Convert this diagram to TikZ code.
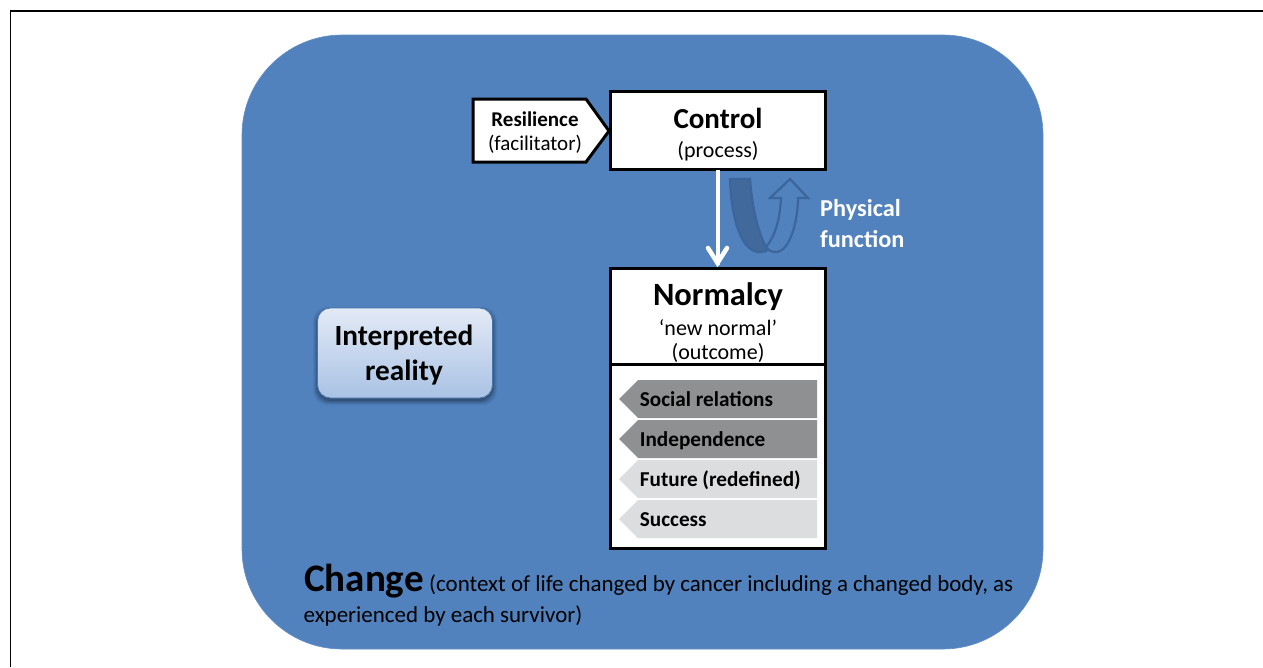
\documentclass[tikz,border=0pt]{standalone}
\usepackage{fontspec}
\setmainfont{Carlito}
\definecolor{chg}{HTML}{5182BE}
\definecolor{darkc}{HTML}{8F9092}
\definecolor{lightc}{HTML}{DCDDDF}
\definecolor{curlf}{HTML}{41699B}
\definecolor{curll}{HTML}{3B659B}
\definecolor{topblue}{HTML}{E3EAF6}
\definecolor{botblue}{HTML}{A9C2E4}
\newcommand{\fsz}[1]{\fontsize{#1}{#1}\selectfont}
\tikzset{
  x=1pt,y=-1pt,
  boxed/.style={draw=black,line width=3pt,fill=white,miter limit=10,inner sep=0pt,outer sep=0pt},
  tag/.style={inner sep=0pt,anchor=west,text=black,font=\fsz{21.2}\bfseries},
  txt/.style={inner sep=0pt,text=black,align=center},
  white label/.style={inner sep=0pt,anchor=west,text=white,font=\fsz{24.3}\bfseries},
  caption/.style={inner sep=0pt,anchor=base west,text=black,font=\fsz{22.95}},
  curl/.style={draw=curll,line width=2.2pt,line join=miter},
}
\begin{document}
\begin{tikzpicture}
\useasboundingbox (0,0) rectangle (1263,667);
\fill[white] (0,0) rectangle (1263,667);
\draw[black,line width=1.2pt] (10.5,667) -- (10.5,11) -- (1263,11);
% change panel
\path[fill=chg,draw=chg!90!white,line width=.6pt]
  (342,35) -- (943,35)
  .. controls (998,35) and (1043,80) .. (1043,135)
  -- (1043,549)
  .. controls (1043,604) and (998,649) .. (943,649)
  -- (342,649)
  .. controls (287,649) and (242,604) .. (242,549)
  -- (242,135)
  .. controls (242,80) and (287,35) .. (342,35) -- cycle;
% Resilience
\path[boxed,line join=miter] (473,99) -- (586,99) -- (609,131) -- (586,162) -- (473,162) -- cycle;
\node[txt,font=\fsz{21}\bfseries] (res) at (535,119) {Resilience};
\node[txt,font=\fsz{21}] (fac) at (535,144) {(facilitator)};
% Control
\node[boxed,minimum width=215pt,minimum height=78pt] (ctrl) at (718,130.5) {};
\node[txt,font=\fsz{29}\bfseries] at (718,118.5) {Control};
\node[txt,font=\fsz{22}] at (718,151) {(process)};
% Normalcy
\node[boxed,minimum width=215pt,minimum height=184pt] (list) at (718,456) {};
\node[boxed,minimum width=215pt,minimum height=96pt] (norm) at (718,316) {};
\node[txt,font=\fsz{32.5}\bfseries] at (718,296.5) {Normalcy};
\node[txt,font=\fsz{22}] at (718,328) {‘new normal’};
\node[txt,font=\fsz{22}] at (718,353) {(outcome)};
% curl arrow
\path[curl,fill=curlf]
  (730,179) -- (750,179)
  .. controls (752,205) and (757,230) .. (766,247)
  .. controls (769,251) and (766,252) .. (758,252)
  .. controls (740,250) and (731,215) .. (730,179) -- cycle;
\path[curl]
  (766,247) .. controls (769,251) and (772,252) .. (776,252)
  .. controls (790,252) and (798,220) .. (798,198)
  -- (808,198) -- (790,179) -- (770,198) -- (781,198)
  .. controls (780,220) and (775,236) .. (766,247);
% main arrow
\draw[white,line width=4.6pt,shorten >=3pt] (ctrl.south) -- (norm.north);
\draw[white,line width=4.5pt,line cap=round,line join=miter] (708,248) -- (717.5,263) -- (727,248);
\node[white label] (pf1) at (820,210) {Physical};
\node[white label] (pf2) at (820,239) {function};
% list items
\fill[darkc] (817,380) -- (638,380) -- (619,399) -- (638,418) -- (817,418) -- cycle;
\fill[darkc] (817,420) -- (638,420) -- (619,439) -- (638,458) -- (817,458) -- cycle;
\fill[lightc] (817,460) -- (638,460) -- (619,479) -- (638,498) -- (817,498) -- cycle;
\fill[lightc] (817,500) -- (638,500) -- (619,519) -- (638,538) -- (817,538) -- cycle;
\node[tag] at (639.7,399.5) {Social relations};
\node[tag] at (639.7,440.5) {Independence};
\node[tag] at (639.7,480.5) {Future (redefined)};
\node[tag] at (639.7,519.5) {Success};
% interpreted reality
\foreach \g/\o in {4/.05,3/.06,2/.08,1/.1,0/.12}{
  \fill[black,opacity=\o,rounded corners=14pt] (317-\g,311-\g) rectangle (493+\g,401+\g);
}
\node[inner sep=0pt,minimum width=175pt,minimum height=90pt,rounded corners=13pt,top color=topblue,bottom color=botblue,draw=chg!90!black,line width=.8pt] (ir) at (405,353) {};
\node[txt,font=\fsz{29.3}\bfseries] at (404,338) {Interpreted};
\node[txt,font=\fsz{29.3}\bfseries] at (404,373) {reality};
% caption
\node[caption,font=\fsz{39}\bfseries] at (304,591) {Change};
\node[caption] at (429,591) {(context of life changed by cancer including a changed body, as};
\node[caption] at (303.5,622) {experienced by each survivor)};
\end{tikzpicture}
\end{document}
